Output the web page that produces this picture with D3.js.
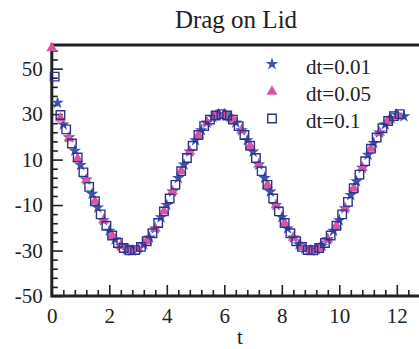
<!DOCTYPE html>
<html>
<head>
<meta charset="utf-8">
<script src="https://cdn.jsdelivr.net/npm/d3@7"></script>
<style>
  body { margin: 0; background: #fff; }
  svg { display: block; }
</style>
</head>
<body>
<div id="chart"></div>
<script>
// dt = 0.01 (stars)
const starT = [0.2, 0.4, 0.6, 0.8, 1.0, 1.2, 1.4, 1.6, 1.8, 2.0, 2.2, 2.4, 2.6, 2.8, 3.0, 3.2, 3.4, 3.6, 3.8, 4.0,
  4.2, 4.4, 4.6, 4.8, 5.0, 5.2, 5.4, 5.6, 5.8, 6.0, 6.2, 6.4, 6.6, 6.8, 7.0, 7.2, 7.4, 7.6, 7.8, 8.0,
  8.2, 8.4, 8.6, 8.8, 9.0, 9.2, 9.4, 9.6, 9.8, 10.0, 10.2, 10.4, 10.6, 10.8, 11.0, 11.2, 11.4, 11.6, 11.8, 12.0, 12.25];
const starV = [35.0, 25.4, 19.8, 13.9, 7.6, 1.2, -5.1, -11.1, -16.7, -21.3, -25.1, -27.9, -29.5, -30.0, -29.2, -27.3, -24.3, -20.3, -15.4, -10.0,
  -4.1, 1.9, 7.8, 13.5, 18.5, 22.9, 26.3, 28.7, 29.9, 29.9, 28.7, 26.3, 22.9, 18.5, 13.5, 7.8, 1.9, -4.1, -10.0, -15.4,
  -20.3, -24.3, -27.3, -29.2, -30.0, -29.5, -27.9, -25.1, -21.3, -16.7, -11.4, -5.6, 0.4, 6.4, 12.1, 17.3, 21.9, 25.5, 28.2, 29.7, 29.0];

// dt = 0.05 (triangles)
const triT = [0, 0.3, 0.6, 0.9, 1.2, 1.5, 1.8, 2.1, 2.4, 2.7, 3.0, 3.3, 3.6, 3.9, 4.2, 4.5, 4.8, 5.1, 5.4, 5.7,
  6.0, 6.3, 6.6, 6.9, 7.2, 7.5, 7.8, 8.1, 8.4, 8.7, 9.0, 9.3, 9.6, 9.9, 10.2, 10.5, 10.8, 11.1, 11.4, 11.7, 12.05];
const triV = [59.0, 28.1, 19.3, 10.3, 1.0, -8.4, -16.7, -23.4, -27.9, -29.9, -29.2, -25.9, -20.3, -12.8, -4.1, 4.9, 13.5, 20.8, 26.3, 29.4,
  29.9, 27.6, 22.9, 16.1, 7.8, -1.1, -10.0, -17.9, -24.3, -28.4, -30.0, -28.9, -25.1, -19.1, -11.4, -2.6, 6.4, 14.8, 21.9, 27.0, 29.0];

// dt = 0.1 (open squares)
const sqT = [0.1, 0.3, 0.5, 0.7, 0.9, 1.1, 1.3, 1.5, 1.7, 1.9, 2.1, 2.3, 2.5, 2.7, 2.9, 3.1, 3.3, 3.5, 3.7, 3.9,
  4.1, 4.3, 4.5, 4.7, 4.9, 5.1, 5.3, 5.5, 5.7, 5.9, 6.1, 6.3, 6.5, 6.7, 6.9, 7.1, 7.3, 7.5, 7.7, 7.9,
  8.1, 8.3, 8.5, 8.7, 8.9, 9.1, 9.3, 9.5, 9.7, 9.9, 10.1, 10.3, 10.5, 10.7, 10.9, 11.1, 11.3, 11.5, 11.7, 11.9, 12.1];
const sqV = [46.5, 29.6, 23.3, 17.1, 10.9, 4.4, -2.0, -8.3, -14.1, -19.1, -23.4, -26.7, -28.9, -29.9, -29.8, -28.4, -25.9, -22.4, -17.9, -12.8,
  -7.1, -1.1, 4.9, 10.7, 16.1, 20.8, 24.7, 27.6, 29.4, 30.0, 29.4, 27.6, 24.7, 20.8, 16.1, 10.7, 4.9, -1.1, -7.1, -12.8,
  -17.9, -22.4, -25.9, -28.4, -29.8, -29.9, -28.9, -26.7, -23.4, -19.1, -14.1, -8.6, -2.6, 3.4, 9.3, 14.8, 19.7, 23.8, 27.0, 29.1, 30.0];

const xMajor = [0, 2, 4, 6, 8, 10, 12];
const yMajor = [-50, -30, -10, 10, 30, 50];

const width = 419;
const height = 349;
const font = "Liberation Serif";

const svg = d3.select("#chart").append("svg")
  .attr("width", width)
  .attr("height", height)
  .attr("font-family", font);

svg.append("rect").attr("width", width).attr("height", height).attr("fill", "#fff");

const x = d3.scaleLinear().domain([0, 12.8]).range([51.8, 419.8]);
const y = d3.scaleLinear().domain([-50, 60.4]).range([296, 45]);

const xMinor = d3.range(0, 12.5, 0.4).filter(v => Math.abs(v / 2 - Math.round(v / 2)) > 1e-6);
const yMinor = d3.range(-50, 60, 4).filter(v => !yMajor.includes(v));

// minor ticks
svg.append("g")
  .attr("transform", `translate(0,${y(-50)})`)
  .call(d3.axisBottom(x).tickValues(xMinor).tickSize(-6).tickFormat(""))
  .call(g => g.select(".domain").remove());
svg.append("g")
  .attr("transform", `translate(${x(0)},0)`)
  .call(d3.axisLeft(y).tickValues(yMinor).tickSize(-6).tickFormat(""))
  .call(g => g.select(".domain").remove());

// major ticks + labels
const xAxis = svg.append("g")
  .attr("transform", `translate(0,${y(-50)})`)
  .call(d3.axisBottom(x).tickValues(xMajor).tickSizeInner(-11).tickSizeOuter(0).tickPadding(12).tickFormat(d3.format("d")));
const yAxis = svg.append("g")
  .attr("transform", `translate(${x(0)},0)`)
  .call(d3.axisLeft(y).tickValues(yMajor).tickSizeInner(-11).tickSizeOuter(0).tickPadding(9).tickFormat(d => String(d)));

[xAxis, yAxis].forEach(g => {
  g.attr("font-family", font).attr("font-size", 21);
  g.selectAll("text").attr("font-family", font).attr("fill", "#222");
  g.select(".domain").remove();
});
svg.selectAll(".tick line").attr("stroke", "#222").attr("stroke-width", 1.6);

// frame: left, bottom, top
svg.append("path")
  .attr("d", `M${x(12.8)},${y(60.4)}H${x(0)}V${y(-50)}H${x(12.8)}`)
  .attr("fill", "none")
  .attr("stroke", "#222")
  .attr("stroke-width", 3);

// series
const series = [
  { name: "dt=0.01", t: starT, v: starV, type: d3.symbolStar, size: 50, fill: "#3b55a6", stroke: "none" },
  { name: "dt=0.05", t: triT, v: triV, type: d3.symbolTriangle, size: 52, fill: "#d9559f", stroke: "none" },
  { name: "dt=0.1", t: sqT, v: sqV, type: d3.symbolSquare, size: 72, fill: "none", stroke: "#2e3190" }
];

series.forEach(s => {
  const sym = d3.symbol().type(s.type).size(s.size);
  svg.append("g")
    .selectAll("path")
    .data(s.t.map((t, i) => [t, s.v[i]]))
    .join("path")
      .attr("d", sym)
      .attr("transform", d => `translate(${x(d[0])},${y(d[1])})`)
      .attr("fill", s.fill)
      .attr("stroke", s.stroke)
      .attr("stroke-width", 1.4);
});

// legend
const legend = svg.append("g");
const legendY = [64, 91.5, 118.5];
series.forEach((s, i) => {
  legend.append("path")
    .attr("d", d3.symbol().type(s.type).size(s.size)())
    .attr("transform", `translate(272,${legendY[i]})`)
    .attr("fill", s.fill)
    .attr("stroke", s.stroke)
    .attr("stroke-width", 1.4);
  legend.append("text")
    .attr("x", 306)
    .attr("y", legendY[i] + 9.5)
    .attr("font-family", font)
    .attr("font-size", 21)
    .attr("fill", "#222")
    .text(s.name);
});

// title and axis label
svg.append("text")
  .attr("x", 236)
  .attr("y", 28)
  .attr("text-anchor", "middle")
  .attr("font-family", font)
  .attr("font-size", 25)
  .attr("fill", "#222")
  .text("Drag on Lid");

svg.append("text")
  .attr("x", 240)
  .attr("y", 344)
  .attr("text-anchor", "middle")
  .attr("font-family", font)
  .attr("font-size", 21)
  .attr("fill", "#222")
  .text("t");
</script>
</body>
</html>
